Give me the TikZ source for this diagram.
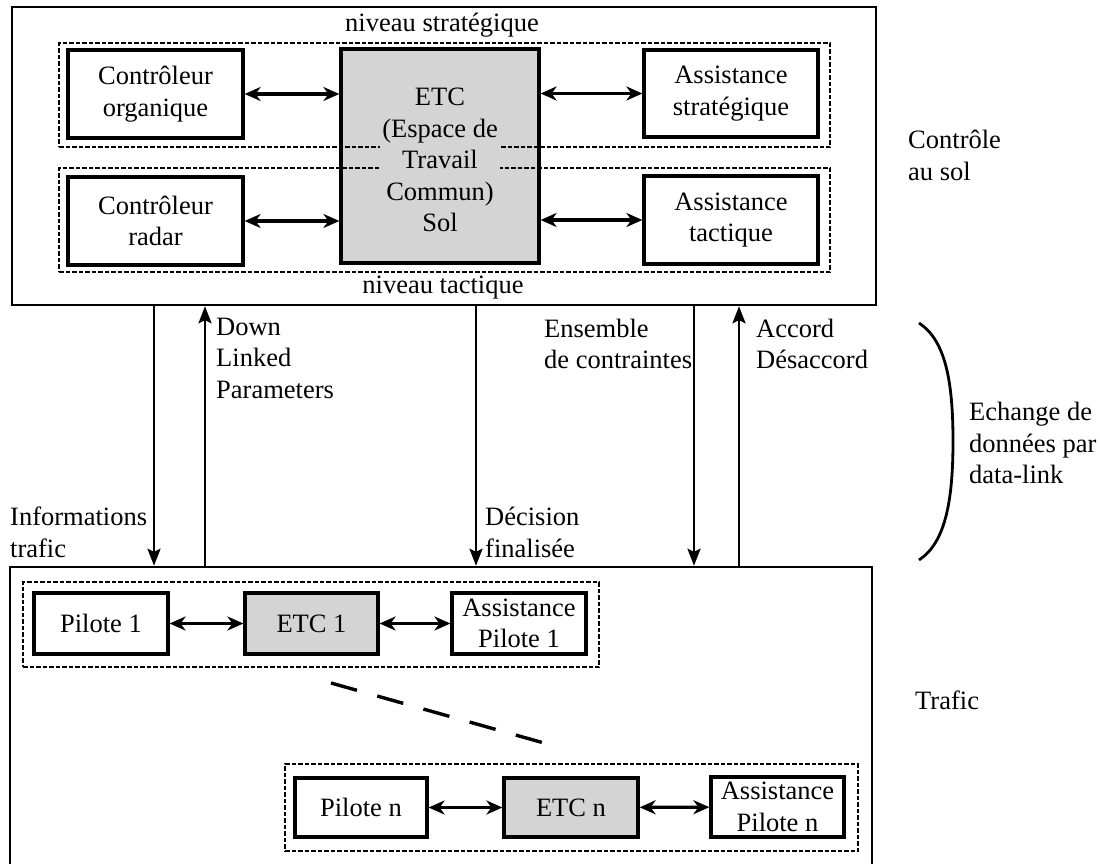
\documentclass[tikz,border=0pt]{standalone}
\usepackage{fontspec}
\setmainfont{LiberationSerif}[Extension=.ttf, UprightFont=*-Regular, BoldFont=*-Bold, ItalicFont=*-Italic, BoldItalicFont=*-BoldItalic]
\usetikzlibrary{arrows.meta}
\definecolor{etcgray}{gray}{0.83}
\begin{document}
\begin{tikzpicture}[x=1pt,y=-1pt,
  every node/.style={font=\fontsize{26.5}{31.5}\selectfont, inner sep=0pt},
  frame/.style={draw, line width=2.5pt},
  group/.style={draw, line width=1.9pt, dash pattern=on 4.5pt off 2pt},
  unit/.style={draw, line width=3.2pt, align=center},
  shared/.style={unit, fill=etcgray},
  link/.style={line width=3.2pt, {Stealth[length=16pt,width=14pt,inset=5pt]}-{Stealth[length=16pt,width=14pt,inset=5pt]}},
  flow/.style={line width=2.6pt, -{Stealth[length=17pt,width=13pt,inset=3pt]}},
  lbl/.style={align=left, anchor=west}
]
\useasboundingbox (0,0) rectangle (1100,863);
\clip (0,0) rectangle (1100,863);

% ground control frame and traffic frame
\node[frame, minimum width=864pt, minimum height=298pt] (ground) at (444,156) {};
\node[frame, minimum width=862pt, minimum height=320pt] (traffic) at (441,727) {};

% shared workspace (ground)
\node[shared, minimum width=198pt, minimum height=214pt] (etc) at (440,156) {};

% strategic and tactical levels
\node[group, minimum width=771pt, minimum height=104pt] (strat) at (444.5,95) {};
\node[group, minimum width=771pt, minimum height=104pt] (tact) at (444.5,220) {};
\node[fill=etcgray, inner sep=2pt, align=center] (etclabel) at (440,160)
  {ETC\\(Espace de\\Travail\\Commun)\\Sol};

\node (nstrat) at (442,25) {niveau stratégique};
\node (ntact) at (443,288) {niveau tactique};

\node[unit, minimum width=175pt, minimum height=88pt] (co) at (155.5,94) {Contrôleur\\organique};
\node[unit, minimum width=175pt, minimum height=88pt] (cr) at (155.5,221) {Contrôleur\\radar};
\node[unit, minimum width=174pt, minimum height=87pt] (as) at (731,93.5) {Assistance\\stratégique};
\node[unit, minimum width=174pt, minimum height=88pt] (at) at (731,220) {Assistance\\tactique};

\draw[link] (co.east) -- (co.east -| etc.west);
\draw[link] (cr.east) -- (cr.east -| etc.west);
\draw[link] (as.west -| etc.east) -- (as.west);
\draw[link] (at.west -| etc.east) -- (at.west);

\node[lbl] (ctrl) at (908,155.5) {Contrôle\\au sol};

% data-link exchanges
\coordinate (c1) at (154,0);
\coordinate (c2) at (205,0);
\coordinate (c3) at (476,0);
\coordinate (c4) at (694,0);
\coordinate (c5) at (739,0);
\draw[flow] (c1 |- ground.south) -- (c1 |- traffic.north);
\draw[flow] (c2 |- traffic.north) -- (c2 |- ground.south);
\draw[flow] (c3 |- ground.south) -- (c3 |- traffic.north);
\draw[flow] (c4 |- ground.south) -- (c4 |- traffic.north);
\draw[flow] (c5 |- traffic.north) -- (c5 |- ground.south);

\node[lbl] (info) at (10,532.5) {Informations\\trafic};
\node[lbl] (dlp) at (216,358) {Down\\Linked\\Parameters};
\node[lbl] (dec) at (485,532.5) {Décision\\finalisée};
\node[lbl] (ens) at (544,344) {Ensemble\\de contraintes};
\node[lbl] (acc) at (756,344) {Accord\\Désaccord};

\draw[line width=2.8pt] (919,323) .. controls (945,340) and (953,380) .. (953,441)
  .. controls (953,502) and (945,543) .. (919,560);
\node[lbl] (dl) at (969,443) {Echange de\\données par\\data-link};

\node[lbl] (traf) at (915,700) {Trafic};

% aircraft 1
\node[group, minimum width=576pt, minimum height=85pt] (g1) at (311,624.5) {};
\node[unit, minimum width=134pt, minimum height=61pt] (p1) at (101,623.5) {Pilote 1};
\node[shared, minimum width=133pt, minimum height=61pt] (e1) at (311.5,623.5) {ETC 1};
\node[unit, minimum width=134pt, minimum height=61pt] (a1) at (519,623.5) {Assistance\\Pilote 1};
\draw[link] (p1) -- (e1);
\draw[link] (e1) -- (a1);

% ellipsis between aircraft
\coordinate (d1) at (331,683);
\coordinate (d2) at (544,743);
\draw[line width=3.4pt, dash pattern=on 27pt off 21pt] (d1) -- (d2);

% aircraft n
\node[group, minimum width=573pt, minimum height=87pt] (gn) at (571.5,807.5) {};
\node[unit, minimum width=132pt, minimum height=59pt] (pn) at (361,807.5) {Pilote n};
\node[shared, minimum width=134pt, minimum height=59pt] (en) at (571,807.5) {ETC n};
\node[unit, minimum width=133pt, minimum height=60pt] (an) at (777.5,807) {Assistance\\Pilote n};
\draw[link] (pn) -- (en);
\draw[link] (en) -- (an);
\end{tikzpicture}
\end{document}
